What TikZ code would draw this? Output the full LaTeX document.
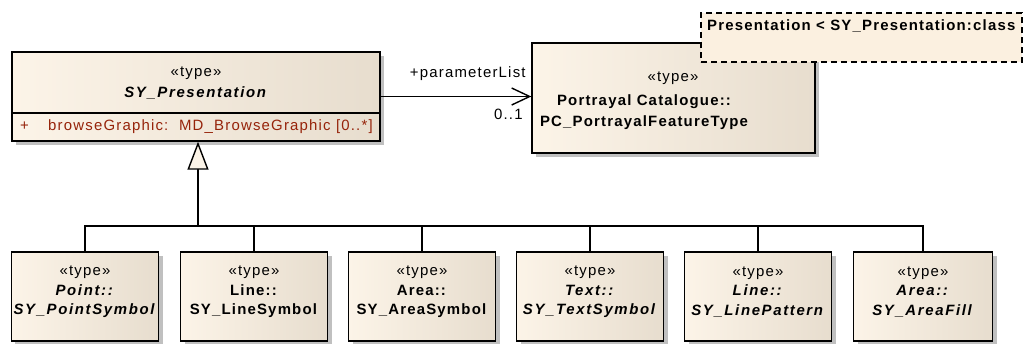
\documentclass[tikz,border=0pt]{standalone}
\usepackage{fontspec}
\setmainfont{Liberation Sans}[LetterSpace=8, BoldItalicFeatures={LetterSpace=11}]
\usetikzlibrary{arrows.meta,shadows,calc}

\definecolor{boxL}{RGB}{252,244,232}
\definecolor{boxR}{RGB}{231,221,206}
\definecolor{noteFill}{RGB}{251,240,224}
\definecolor{attrRed}{RGB}{150,35,10}
\definecolor{shadowGrey}{RGB}{192,192,192}

\tikzset{
  umlbox/.style={rectangle, draw=black, line width=1.4bp, inner sep=0pt,
    left color=boxL, right color=boxR,
    general shadow={shadow xshift=4bp, shadow yshift=-4bp, fill=shadowGrey}},
  leafbox/.style={umlbox, minimum width=147bp, minimum height=89bp},
  boxtext/.style={align=center, inner sep=0pt, font=\fontsize{15}{19.5}\selectfont},
  notebox/.style={rectangle, draw=black, line width=1.4bp, dash pattern=on 6bp off 4bp,
    fill=noteFill, inner sep=0pt},
  conn/.style={line width=1.4bp, draw=black},
  assoc/.style={conn, -{Straight Barb[length=18bp, width=17bp, line width=1.4bp]}},
  gen/.style={conn, -{Triangle[length=28bp, width=21bp, fill=boxL, line width=1.4bp]}},
  lbl/.style={inner sep=0pt, font=\fontsize{15}{18}\selectfont}
}

\begin{document}
\begin{tikzpicture}[x=1bp, y=-1bp]
  \useasboundingbox (0,0) rectangle (1024,343);

  % abstract parent type
  \node[umlbox, minimum width=368bp, minimum height=89bp] (pres) at (196,96.5) {};
  \draw[line width=1.4bp] (pres.west |- 0,113) -- (pres.east |- 0,113);
  \node[boxtext, font=\fontsize{15}{21}\selectfont] (pres-t) at (196,83)
    {«type»\\\textbf{\textit{SY\_Presentation}}};
  \node[lbl, anchor=west, text=attrRed] (pres-a) at (20,127)
    {\makebox[28bp][l]{+}browseGraphic:\ \ MD\_BrowseGraphic [0..*]};

  % referenced feature type
  \node[umlbox, minimum width=283bp, minimum height=110bp] (ptype) at (673.5,98) {};
  \node[boxtext] (ptype-s) at (673,78) {«type»};
  \node[boxtext, font=\fontsize{15}{21}\selectfont\bfseries] (ptype-t) at (644,112)
    {Portrayal Catalogue::\\PC\_PortrayalFeatureType};

  % association
  \draw[assoc] (pres.east) -- (pres.east -| ptype.west)
    node[lbl, pos=1, anchor=south east, xshift=-5bp, yshift=15bp] (role) {+parameterList}
    node[lbl, pos=1, anchor=north east, xshift=-8bp, yshift=-12bp] (mult) {0..1};

  % note
  \node[notebox, minimum width=321bp, minimum height=49bp] (note) at (861.5,37.5) {};
  \node[lbl, anchor=west, font=\fontsize{15}{18}\selectfont\bfseries] (note-t) at (707,26)
    {Presentation < SY\_Presentation:class};

  % subtypes
  \node[leafbox] (pt) at (85,296.5) {};
  \node[leafbox] (ln) at (254,296.5) {};
  \node[leafbox] (ar) at (422,296.5) {};
  \node[leafbox] (tx) at (590,296.5) {};
  \node[leafbox] (lp) at (758,296.5) {};
  \node[leafbox, minimum width=139bp] (af) at (923,296.5) {};

  \node[boxtext] (pt-t) at (85,292) {«type»\\\textbf{\textit{Point::}}\\\textbf{\textit{SY\_PointSymbol}}};
  \node[boxtext] (ln-t) at (254,292) {«type»\\\textbf{Line::}\\\textbf{SY\_LineSymbol}};
  \node[boxtext] (ar-t) at (422,292) {«type»\\\textbf{Area::}\\\textbf{SY\_AreaSymbol}};
  \node[boxtext] (tx-t) at (590,292) {«type»\\\textbf{\textit{Text::}}\\\textbf{\textit{SY\_TextSymbol}}};
  \node[boxtext] (lp-t) at (758,292) {«type»\\\textbf{\textit{Line::}}\\\textbf{\textit{SY\_LinePattern}}};
  \node[boxtext] (af-t) at (923,292) {«type»\\\textbf{\textit{Area::}}\\\textbf{\textit{SY\_AreaFill}}};

  % generalization tree
  \coordinate (bar) at (198,226);
  \foreach \c in {pt,ln,ar,tx,lp,af} {
    \draw[conn] (\c.north) |- (bar);
  }
  \draw[gen] (bar) -- (bar |- pres.south);
\end{tikzpicture}
\end{document}
